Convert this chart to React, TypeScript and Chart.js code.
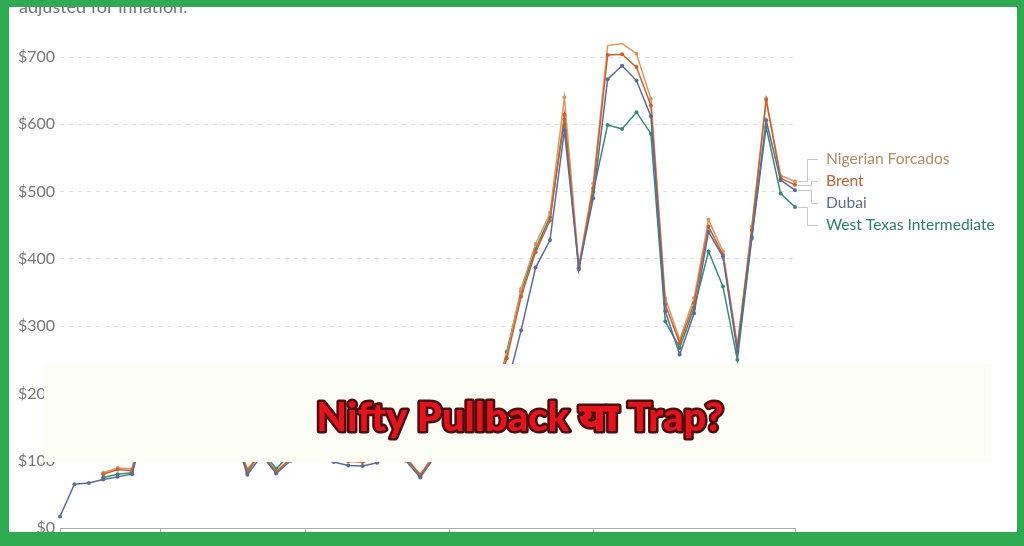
import React, { useEffect, useRef } from "react";
import { Chart, registerables } from "chart.js";

Chart.register(...registerables);

// ---------- data ----------
const years = [
  "1973", "1974", "1975", "1976", "1977", "1978", "1979",
  "1980", "1981", "1982", "1983", "1984", "1985", "1986", "1987", "1988", "1989",
  "1990", "1991", "1992", "1993", "1994", "1995", "1996", "1997", "1998", "1999",
  "2000", "2001", "2002", "2003", "2004", "2005", "2006", "2007", "2008", "2009",
  "2010", "2011", "2012", "2013", "2014", "2015", "2016", "2017", "2018", "2019",
  "2020", "2021", "2022", "2023", "2024",
];

const nigerianForcados = [
  null, null, null, 82, 89, 88, 182,
  240, 232, 202, 172, 162, 145, 88, 112, 84, 104,
  125, 108, 104, 100, 99, 103, 112, 104, 80, 110,
  160, 140, 142, 170, 258, 356, 422, 468, 640, 390,
  512, 717, 720, 705, 638, 342, 280, 342, 458, 411,
  272, 448, 638, 524, 515,
];

const brent = [
  null, null, null, 80, 87, 85, 180,
  238, 230, 200, 170, 160, 140, 86, 110, 83, 103,
  124, 106, 103, 99, 98, 102, 111, 103, 79, 108,
  158, 138, 140, 168, 252, 344, 410, 457, 614, 386,
  505, 703, 704, 685, 628, 332, 275, 334, 448, 406,
  268, 443, 636, 520, 510,
];

const dubai = [
  17, 65, 67, 72, 76, 80, 160,
  232, 235, 202, 172, 162, 145, 79, 108, 81, 100,
  118, 102, 98, 93, 92, 97, 108, 100, 75, 106,
  155, 132, 137, 160, 210, 294, 387, 428, 591, 386,
  490, 667, 687, 665, 612, 322, 258, 319, 440, 403,
  262, 433, 606, 517, 502,
];

const westTexas = [
  null, null, null, 75, 80, 82, 175,
  236, 225, 195, 170, 160, 150, 82, 115, 88, 110,
  130, 112, 106, 101, 100, 104, 115, 107, 77, 112,
  165, 143, 145, 176, 262, 352, 415, 462, 607, 384,
  500, 599, 593, 618, 586, 307, 268, 327, 411, 359,
  250, 430, 596, 497, 477,
];

const seriesNames = ["Nigerian Forcados", "Brent", "Dubai", "West Texas Intermediate"];
const seriesValues = [nigerianForcados, brent, dubai, westTexas];
const lineColors = ["#dc9862", "#c8612f", "#5b6a9b", "#3b8a6c"];
const labelColors = ["#b08d68", "#bf6536", "#5d6f98", "#2f7d69"];
const drawOrder = [2, 1, 0, 3];

const yMin = 0;
const yMax = 700;
const yStep = 100;
const xTickYears = ["1973", "1980", "1990", "2000", "2010", "2024"];

const titleText = "adjusted for inflation.";
const bannerText = "Nifty Pullback या Trap?";

// ---------- overlay plugin ----------
const overlayPlugin = {
  id: "overlay",
  afterDatasetsDraw(chart: any) {
    const { ctx, chartArea } = chart;
    const right = chartArea.right;
    const ends: number[] = seriesValues.map((_, i) => {
      const meta = chart.getDatasetMeta(i);
      return meta.data[meta.data.length - 1].y;
    });
    const mean = ends.reduce((a, b) => a + b, 0) / ends.length;
    const gap = 21.8;
    ctx.save();
    ctx.font = "15.6px Lato, 'Noto Sans', sans-serif";
    ctx.textBaseline = "middle";
    ctx.textAlign = "left";
    seriesNames.forEach((name, i) => {
      const ly = mean + (i - 1.5) * gap + 1;
      const elbow = i === 0 || i === 3 ? right + 12 : right + 16;
      ctx.beginPath();
      ctx.strokeStyle = "#c6c6c6";
      ctx.lineWidth = 1;
      ctx.moveTo(right + 3, Math.round(ends[i]) + 0.5);
      ctx.lineTo(elbow + 0.5, Math.round(ends[i]) + 0.5);
      ctx.lineTo(elbow + 0.5, Math.round(ly) + 0.5);
      ctx.lineTo(right + 23, Math.round(ly) + 0.5);
      ctx.stroke();
      ctx.fillStyle = labelColors[i];
      ctx.fillText(name, right + 31, ly);
    });
    ctx.restore();
  },
  afterDraw(chart: any) {
    const { ctx, width, height } = chart;
    ctx.save();
    // banner
    ctx.fillStyle = "#fcfdf4";
    ctx.fillRect(44, 364, 947, 98);
    ctx.font = "900 40px Lato, 'Noto Sans', sans-serif";
    ctx.textAlign = "center";
    ctx.textBaseline = "alphabetic";
    ctx.lineJoin = "round";
    ctx.lineWidth = 5;
    ctx.strokeStyle = "#4a0d0d";
    ctx.strokeText(bannerText, 520, 431);
    ctx.fillStyle = "#e3141c";
    ctx.fillText(bannerText, 520, 431);
    // title (cut by frame)
    ctx.font = "18px Lato, 'Noto Sans', sans-serif";
    ctx.textAlign = "left";
    ctx.fillStyle = "#777777";
    ctx.fillText(titleText, 19, 12.5);
    // green frame
    ctx.fillStyle = "#2eaa50";
    ctx.fillRect(0, 0, width, 7);
    ctx.fillRect(0, 0, 9, height);
    ctx.fillRect(width - 7, 0, 7, height);
    ctx.fillRect(0, 532, width, height - 532);
    ctx.restore();
  },
};

export default function App() {
  const canvasRef = useRef<HTMLCanvasElement | null>(null);

  useEffect(() => {
    if (!canvasRef.current) return;
    const chart = new Chart(canvasRef.current, {
      type: "line",
      data: {
        labels: years,
        datasets: seriesNames.map((name, i) => ({
          label: name,
          data: seriesValues[i],
          borderColor: lineColors[i],
          backgroundColor: lineColors[i],
          pointBackgroundColor: lineColors[i],
          pointBorderColor: lineColors[i],
          pointRadius: 2,
          pointBorderWidth: 0,
          borderWidth: 1.5,
          tension: 0,
          clip: false as any,
          order: drawOrder[i],
        })),
      },
      options: {
        animation: false,
        responsive: true,
        maintainAspectRatio: false,
        layout: { padding: { left: 0, right: 229, top: 57, bottom: 0 } },
        plugins: { legend: { display: false }, tooltip: { enabled: false } },
        events: [],
        scales: {
          x: {
            type: "category",
            offset: false,
            ticks: { display: false, autoSkip: false },
            grid: { drawOnChartArea: false, drawTicks: true, tickLength: 6, color: "#aaaaaa" },
            border: { display: true, color: "#aaaaaa" },
            afterBuildTicks: (s: any) => {
              s.ticks = s.ticks.filter((t: any) => xTickYears.includes(years[t.value]));
            },
            afterFit: (s: any) => {
              s.height = 18;
            },
          },
          y: {
            min: yMin,
            max: yMax,
            ticks: {
              stepSize: yStep,
              padding: 5,
              color: "#777777",
              font: { family: "Lato", size: 16 },
              callback: (v: any) => "$" + v,
            },
            grid: { color: "#dddddd", drawTicks: false },
            border: { display: false, dash: [4, 5] },
            afterFit: (s: any) => {
              s.width = 60;
            },
          },
        },
      },
      plugins: [overlayPlugin],
    });
    return () => chart.destroy();
  }, []);

  return (
    <div style={{ position: "fixed", left: 0, top: 0, width: 1024, height: 546, background: "#ffffff" }}>
      <canvas ref={canvasRef} />
    </div>
  );
}
